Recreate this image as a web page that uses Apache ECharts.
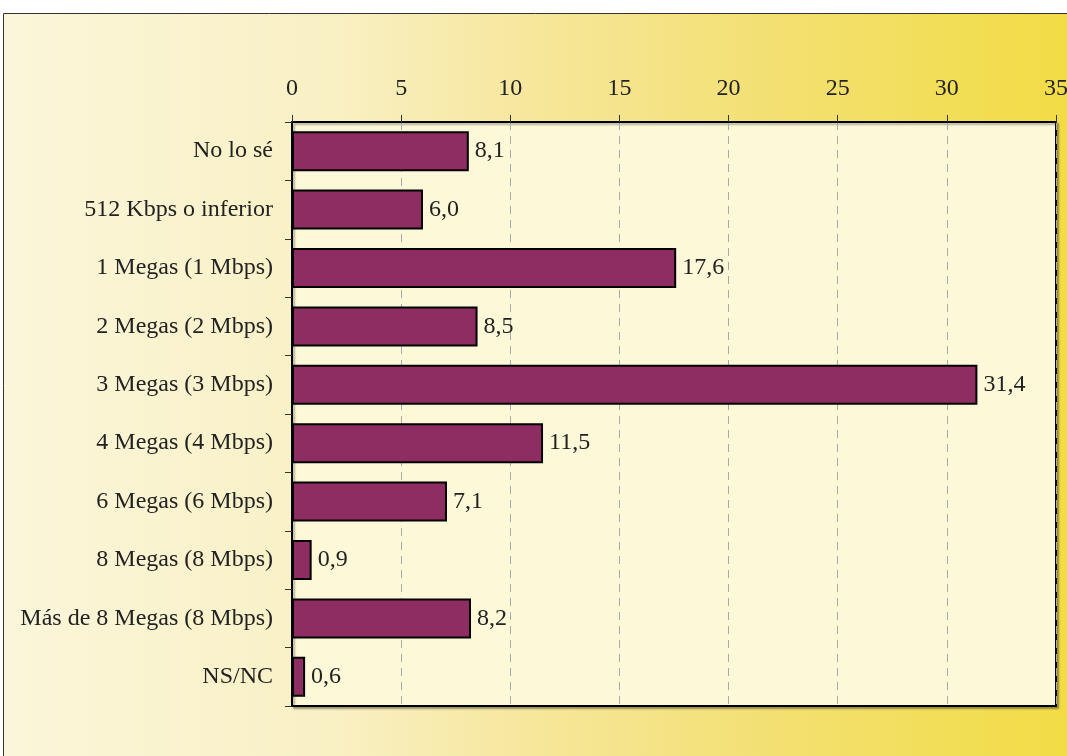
<!DOCTYPE html>
<html>
<head>
<meta charset="utf-8">
<style>
  html, body { margin: 0; padding: 0; background: #fff; }
  #chart { width: 1067px; height: 756px; }
</style>
<script src="https://cdn.jsdelivr.net/npm/echarts@6/dist/echarts.min.js"></script>
</head>
<body>
<div id="chart"></div>
<script>
// velocidad de conexión contratada (%)
const categories = ['No lo sé', '512 Kbps o inferior', '1 Megas (1 Mbps)', '2 Megas (2 Mbps)', '3 Megas (3 Mbps)',
  '4 Megas (4 Mbps)', '6 Megas (6 Mbps)', '8 Megas (8 Mbps)', 'Más de 8 Megas (8 Mbps)', 'NS/NC']
const values = [8.1, 6.0, 17.6, 8.5, 31.4, 11.5, 7.1, 0.9, 8.2, 0.6]

const serif = '"Liberation Serif", "DejaVu Serif", serif'

const chart = echarts.init(document.getElementById('chart'))
const option = {
  animation: false,
  graphic: [
    {
      type: 'rect',
      z: -10,
      shape: {x: 3.5, y: 13.5, width: 1100, height: 800},
      style: {
        fill: new echarts.graphic.LinearGradient(0, 0, 1, 0, [
          {offset: 0, color: '#fbf6da'},
          {offset: 0.3, color: '#f9f0c4'},
          {offset: 0.5, color: '#f6e697'},
          {offset: 0.7, color: '#f3e072'},
          {offset: 1, color: '#f2dc40'}
        ]),
        stroke: '#333',
        lineWidth: 1
      }
    }
  ],
  grid: {
    left: 292,
    right: 11,
    top: 122,
    bottom: 50,
    outerBoundsMode: 'none',
    show: true,
    backgroundColor: '#fcf8d8',
    borderColor: '#000',
    borderWidth: 2,
    shadowColor: 'rgba(0,0,0,0.3)',
    shadowOffsetX: 2,
    shadowOffsetY: 2,
    shadowBlur: 2
  },
  xAxis: {
    type: 'value',
    position: 'top',
    min: 0,
    max: 35,
    interval: 5,
    axisLine: {show: true, lineStyle: {color: '#000', width: 2}},
    axisTick: {show: true, length: 7, lineStyle: {color: '#333'}},
    axisLabel: {
      color: '#222',
      fontFamily: serif,
      fontSize: 24,
      margin: 21
    },
    splitLine: {show: true, lineStyle: {color: '#aaa', type: [8, 6], width: 1}}
  },
  yAxis: {
    type: 'category',
    inverse: true,
    data: categories,
    axisLine: {show: true, lineStyle: {color: '#000', width: 2}},
    axisTick: {show: true, length: 7, alignWithLabel: false, lineStyle: {color: '#333'}},
    axisLabel: {
      color: '#222',
      fontFamily: serif,
      fontSize: 24,
      margin: 19
    }
  },
  series: [
    {
      type: 'bar',
      data: values,
      barWidth: 40,
      itemStyle: {color: '#8e2d62', borderColor: '#000', borderWidth: 2},
      label: {
        show: true,
        position: 'right',
        distance: 6,
        color: '#222',
        fontFamily: serif,
        fontSize: 24,
        formatter: p => p.value.toFixed(1).replace('.', ',')
      }
    }
  ]
}
chart.setOption(option)
window.addEventListener('resize', () => chart.resize())
</script>
</body>
</html>
